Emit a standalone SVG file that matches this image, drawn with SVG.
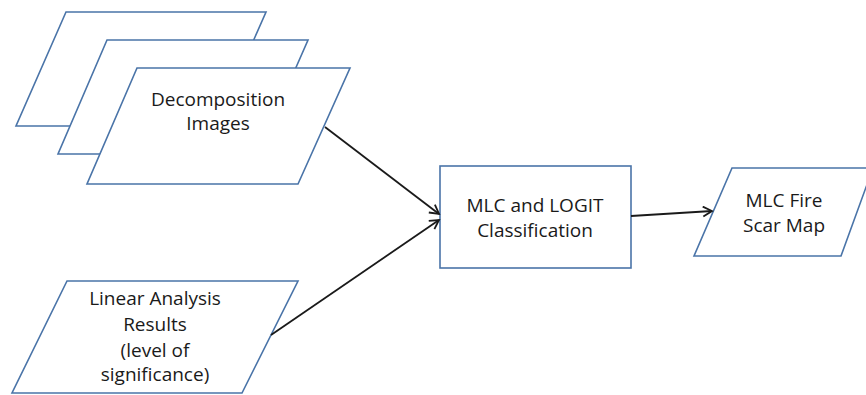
<svg xmlns="http://www.w3.org/2000/svg" width="866" height="395" viewBox="0 0 866 395">
<style>
.shape{fill:#fff;stroke:#4a74a8;stroke-width:1.6}
.lbl{font-family:"Open Sans","Liberation Sans",sans-serif;font-size:19px;fill:#1a1a1a;text-anchor:middle}
.conn{stroke:#1a1a1a;stroke-width:1.8;fill:none}
</style>
<defs>
<marker id="arr" markerWidth="12" markerHeight="12" refX="10" refY="6" orient="auto" markerUnits="userSpaceOnUse">
<path d="M1,1 L10,6 L1,11" fill="none" stroke="#1a1a1a" stroke-width="1.8"/>
</marker>
</defs>
<rect width="866" height="395" fill="#fff"/>
<g id="decomp-back"><polygon class="shape" points="66,12 266,12 216,126 16,126"/></g>
<g id="decomp-mid"><polygon class="shape" points="107,40 308,40 258,154 58,154"/></g>
<g id="decomp-front"><polygon class="shape" points="137,68 350,68 298,184 87,184"/>
<text class="lbl" x="218" y="106">Decomposition</text>
<text class="lbl" x="218" y="130">Images</text></g>
<g id="linear"><polygon class="shape" points="67,281 298,281 242,393 12,393"/>
<text class="lbl" x="155" y="305">Linear Analysis</text>
<text class="lbl" x="155" y="331">Results</text>
<text class="lbl" x="155" y="357">(level of</text>
<text class="lbl" x="155" y="381">significance)</text></g>
<g id="classify"><rect class="shape" x="440" y="166" width="191" height="102"/>
<text class="lbl" x="535" y="212">MLC and LOGIT</text>
<text class="lbl" x="535" y="237">Classification</text></g>
<g id="firescar"><polygon class="shape" points="732,168 873,168 841,256 694,256"/>
<text class="lbl" x="784" y="207">MLC Fire</text>
<text class="lbl" x="784" y="232">Scar Map</text></g>
<g id="connectors">
<line class="conn" x1="325" y1="127" x2="439" y2="214" marker-end="url(#arr)"/>
<line class="conn" x1="271" y1="335" x2="439" y2="220" marker-end="url(#arr)"/>
<line class="conn" x1="631" y1="216" x2="712" y2="211" marker-end="url(#arr)"/>
</g>
</svg>
